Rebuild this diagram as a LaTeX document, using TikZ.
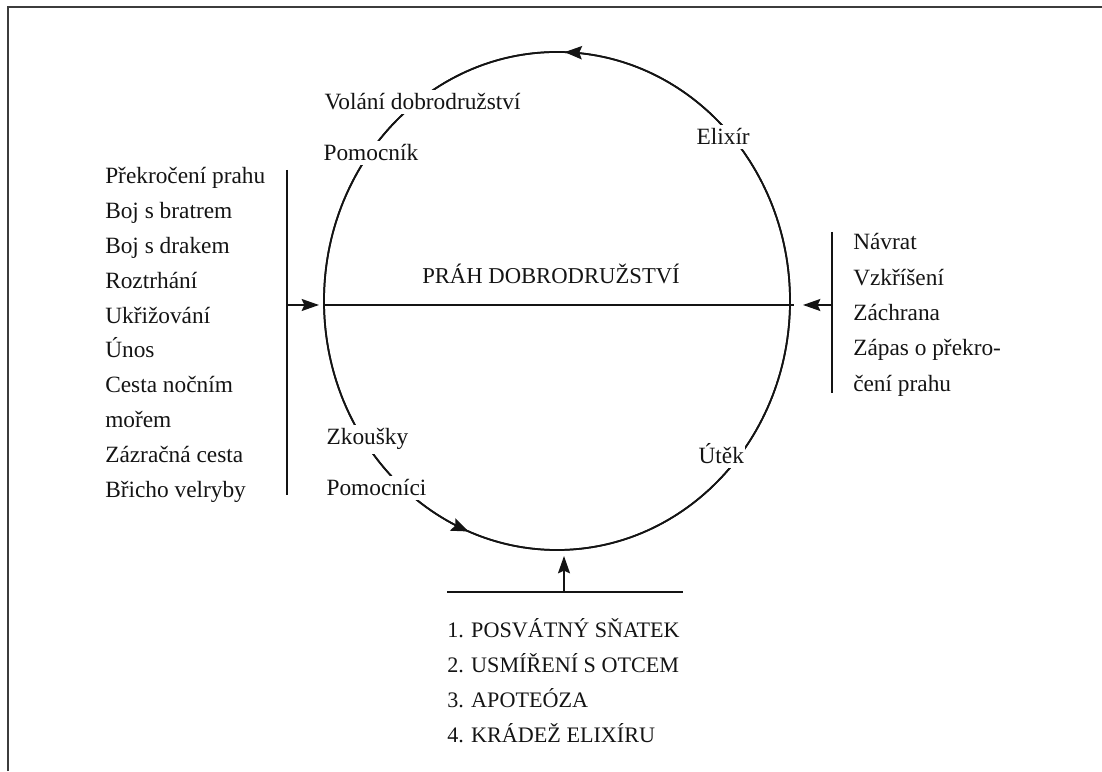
\documentclass[tikz,border=0pt]{standalone}
\usepackage{fontspec}
\setmainfont{Liberation Serif}
\usepackage{tikz}
\usetikzlibrary{arrows.meta,decorations.markings}
\definecolor{hjInk}{HTML}{141414}
\definecolor{hjFrame}{HTML}{3C3C3C}
\newcommand{\hjfont}{\fontsize{17.5}{20}\selectfont}
\newcommand{\hjcaps}{\fontsize{16.6}{20}\selectfont}
\tikzset{
  stage/.style={font=\hjfont,text=hjInk,fill=white,
    inner xsep=1pt,inner ysep=3pt,anchor=base west},
  item/.style={font=\hjfont,text=hjInk,inner sep=0pt,anchor=base west},
  capsitem/.style={item,font=\hjcaps},
  bar/.style={line width=1.2pt,draw=hjInk},
  ring/.style={line width=1.3pt,draw=hjInk},
  arr/.style={-{Stealth[length=13pt,width=9pt,inset=2pt]},line width=1.2pt,draw=hjInk},
  mid arrow/.style={postaction={decorate},decoration={markings,
    mark=at position #1 with {\arrow{Stealth[length=13pt,width=10pt,inset=2pt]}}}},
}

\begin{document}
\begin{tikzpicture}[x=0.75pt,y=0.75pt]
  \useasboundingbox (0,0) rectangle (1102,771);
  % page edge of the scan
  \draw[hjFrame,line width=2.2pt] (8,0) -- (8,764) -- (1102,764);

  % the cycle
  \coordinate (ctr) at (557,470);
  \draw[ring,mid arrow=0.245] (ctr) ellipse [x radius=174.75pt,y radius=186.75pt];
  \path[ring,mid arrow=0.69] (ctr) ellipse [x radius=174.75pt,y radius=186.75pt];

  % stages on the cycle
  \node[stage] (call) at (323,661) {Volání dobrodružství};
  \node[stage] (helper) at (322,610) {Pomocník};
  \node[stage] (elixir) at (695,626) {Elixír};
  \node[stage] (trials) at (325,326) {Zkoušky};
  \node[stage] (helpers) at (325,275) {Pomocníci};
  \node[stage] (flight) at (697,307) {Útěk};

  % threshold
  \coordinate (thrL) at (324,466);
  \coordinate (thrR) at (794,466);
  \draw[bar] (thrL) -- (thrR);
  \node[item,font=\fontsize{17}{20}\selectfont] (threshold) at (422,487) {PRÁH DOBRODRUŽSTVÍ};

  % left side: crossing
  \coordinate (lbarT) at (287,601);
  \coordinate (lbarB) at (287,276);
  \coordinate (lbarM) at (287,466);
  \coordinate (lhit) at (319,466);
  \draw[bar] (lbarT) -- (lbarB);
  \draw[arr] (lbarM) -- (lhit);
  \foreach \txt [count=\i] in {Překročení prahu,Boj s bratrem,Boj s drakem,
      Roztrhání,Ukřižování,Únos,Cesta nočním,mořem,Zázračná cesta,Břicho velryby}
    \node[item] (left\i) at (105,{587-34.8*(\i-1)}) {\txt};

  % right side: return
  \coordinate (rbarT) at (832,539);
  \coordinate (rbarB) at (832,378);
  \coordinate (rbarM) at (832,466);
  \coordinate (rhit) at (803,466);
  \draw[bar] (rbarT) -- (rbarB);
  \draw[arr] (rbarM) -- (rhit);
  \foreach \txt [count=\i] in {Návrat,Vzkříšení,Záchrana,Zápas o překro-,čení prahu}
    \node[item] (right\i) at (853,{521-35.3*(\i-1)}) {\txt};

  % bottom: the boon
  \coordinate (bbarL) at (447,179);
  \coordinate (bbarR) at (683,179);
  \coordinate (bbarM) at (564,179);
  \coordinate (bhit) at (564,215);
  \draw[bar] (bbarL) -- (bbarR);
  \draw[arr] (bbarM) -- (bhit);
  \foreach \txt [count=\i] in {1. POSVÁTNÝ SŇATEK,2. USMÍŘENÍ S OTCEM,
      3. APOTEÓZA,4. KRÁDEŽ ELIXÍRU}
    \node[capsitem] (boon\i) at (447,{134-35*(\i-1)}) {\txt};
\end{tikzpicture}
\end{document}
